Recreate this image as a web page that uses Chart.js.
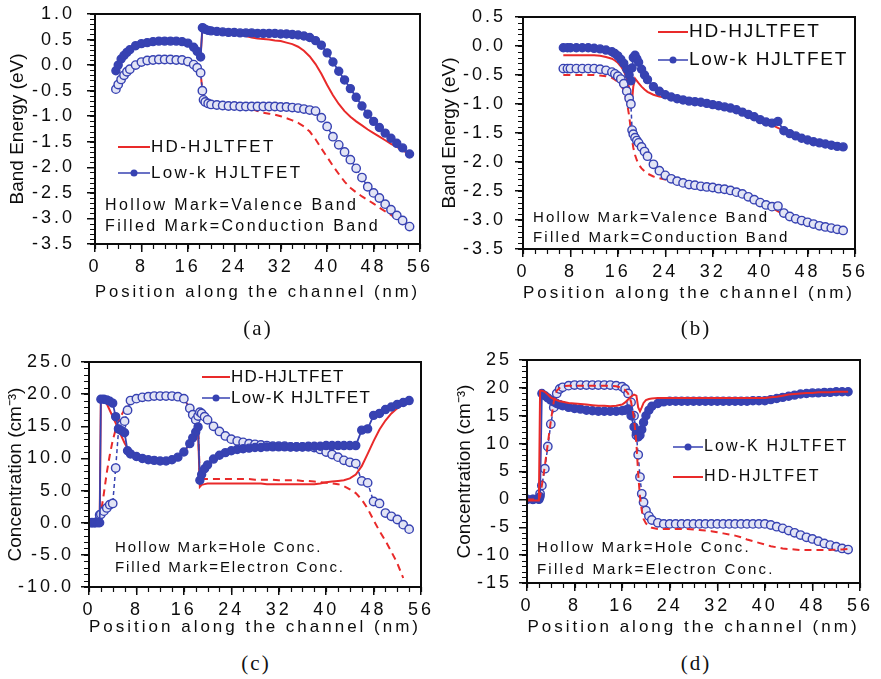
<!DOCTYPE html>
<html>
<head>
<meta charset="utf-8">
<title>Band energy and carrier concentration along the channel</title>
<script src="https://cdn.jsdelivr.net/npm/chart.js@4.4.1/dist/chart.umd.min.js"></script>
<style>
  body { margin: 0; background: #fff; }
  #page { position: relative; width: 881px; height: 679px; overflow: hidden; background: #fff; }
  .panel { position: absolute; }
  .panel canvas { display: block; }
  .caption {
    position: absolute; width: 60px; margin-left: -30px; text-align: center;
    font-family: "Liberation Serif", "Times New Roman", serif; font-size: 21px;
    line-height: 24px; letter-spacing: 2px; color: #111;
  }
</style>
</head>
<body>
<div id="page">
  <div class="panel" style="left:0;top:0"><canvas id="chartA" width="440" height="303"></canvas></div>
  <div class="panel" style="left:440px;top:0"><canvas id="chartB" width="441" height="304"></canvas></div>
  <div class="panel" style="left:0;top:335px"><canvas id="chartC" width="440" height="303"></canvas></div>
  <div class="panel" style="left:440px;top:335px"><canvas id="chartD" width="441" height="303"></canvas></div>
  <div class="caption" style="left:258px;top:316px">(a)</div>
  <div class="caption" style="left:696px;top:316px">(b)</div>
  <div class="caption" style="left:256px;top:651px">(c)</div>
  <div class="caption" style="left:696px;top:651px">(d)</div>
</div>
<script>
// ---- tick labels ----
const xTicks = [0, 8, 16, 24, 32, 40, 48, 56];
const energyTicksA = [1.0, 0.5, 0.0, -0.5, -1.0, -1.5, -2.0, -2.5, -3.0, -3.5];
const energyTicksB = [0.5, 0.0, -0.5, -1.0, -1.5, -2.0, -2.5, -3.0, -3.5];
const concTicksC = [25, 20, 15, 10, 5, 0, -5, -10];
const concTicksD = [25, 20, 15, 10, 5, 0, -5, -10, -15];

// ---- (a) band energy, positions in nm ----
const aPos = [
  3.6, 4, 4.5, 5, 5.5, 6,
  7, 8, 9, 10, 11, 12, 13, 14, 15, 16, 17,
  17.6, 18.2, 18.5, 18.7, 19, 19.5, 20,
  21, 22, 23, 24, 25, 26, 27, 28, 29, 30, 31, 32, 33, 34, 35, 36, 37,
  38, 39, 40, 41, 42, 43, 44, 45, 46, 47, 48, 49, 50, 51, 52, 53, 54.2
];
const aCondLowK = [
  -0.11, 0.00, 0.12, 0.19, 0.25, 0.30,
  0.38, 0.42, 0.44, 0.46, 0.47, 0.47, 0.47, 0.47, 0.46, 0.43, 0.35,
  0.27, 0.16, 0.73, 0.72, 0.70, 0.68, 0.67,
  0.66, 0.65, 0.64, 0.64, 0.63, 0.63, 0.63, 0.62, 0.62, 0.62, 0.62, 0.61, 0.61, 0.60, 0.59, 0.57, 0.54,
  0.48, 0.39, 0.24, 0.06, -0.12, -0.29, -0.46, -0.63, -0.80, -0.96, -1.10, -1.22, -1.33, -1.43, -1.53, -1.62, -1.74
];
const aCondHD = [
  -0.11, 0.00, 0.12, 0.19, 0.25, 0.30,
  0.38, 0.42, 0.44, 0.46, 0.47, 0.47, 0.47, 0.47, 0.46, 0.43, 0.35,
  0.27, 0.16, 0.73, 0.72, 0.70, 0.68, 0.67,
  0.66, 0.65, 0.64, 0.63, 0.60, 0.57, 0.54, 0.52, 0.51, 0.50, 0.48, 0.47, 0.44, 0.41, 0.36, 0.28, 0.17,
  0.02, -0.17, -0.39, -0.59, -0.76, -0.90, -1.01, -1.10, -1.18, -1.26, -1.33, -1.40, -1.47, -1.54, -1.60, -1.67, -1.74
];
const aValLowK = [
  -0.47, -0.38, -0.28, -0.20, -0.13, -0.08,
  0.00, 0.06, 0.09, 0.10, 0.11, 0.11, 0.11, 0.10, 0.10, 0.07, 0.01,
  -0.05, -0.15, -0.50, -0.68, -0.72, -0.75, -0.77,
  -0.78, -0.79, -0.80, -0.80, -0.81, -0.81, -0.81, -0.81, -0.81, -0.81, -0.81, -0.82, -0.82, -0.83, -0.84, -0.86, -0.88,
  -0.90, -1.03, -1.20, -1.40, -1.56, -1.70, -1.85, -2.02, -2.20, -2.38, -2.50, -2.60, -2.72, -2.83, -2.94, -3.04, -3.16
];
const aValHD = [
  -0.47, -0.38, -0.28, -0.20, -0.13, -0.08,
  0.00, 0.06, 0.09, 0.10, 0.11, 0.11, 0.11, 0.10, 0.10, 0.07, 0.01,
  -0.05, -0.15, -0.50, -0.68, -0.72, -0.75, -0.77,
  -0.78, -0.79, -0.80, -0.80, -0.81, -0.83, -0.86, -0.90, -0.93, -0.95, -0.97, -1.00, -1.04, -1.08, -1.13, -1.20, -1.30,
  -1.45, -1.63, -1.80, -1.97, -2.13, -2.28, -2.40, -2.49, -2.57, -2.64, -2.71, -2.79, -2.86, -2.93, -3.01, -3.08, -3.16
];

// ---- (b) band energy ----
const bPos = [
  6.8, 7.5, 8, 9, 10, 11, 12, 13, 14, 15,
  15.5, 16, 16.5, 17, 17.5, 17.9, 18.2, 18.4, 18.6, 18.9, 19.2, 19.5, 20, 20.5,
  21, 22, 23, 24, 25, 26, 27, 28, 29, 30, 31, 32, 33, 34, 35, 36, 37,
  38, 39, 40, 41, 42, 43, 44, 45, 46, 47, 48, 49, 50, 51, 52, 53, 54
];
const bCondLowK = [
  -0.03, -0.03, -0.03, -0.03, -0.03, -0.03, -0.04, -0.05, -0.07, -0.10,
  -0.13, -0.17, -0.23, -0.30, -0.40, -0.50, -0.60, -0.38, -0.20, -0.16, -0.22, -0.28, -0.40, -0.50,
  -0.58, -0.70, -0.78, -0.84, -0.88, -0.91, -0.93, -0.95, -0.96, -0.97, -0.99, -1.01, -1.03, -1.05, -1.07, -1.10, -1.14,
  -1.18, -1.22, -1.27, -1.31, -1.33, -1.30, -1.46, -1.51, -1.55, -1.59, -1.62, -1.65, -1.67, -1.69, -1.71, -1.73, -1.74
];
const bCondHD = [
  -0.16, -0.16, -0.16, -0.16, -0.16, -0.16, -0.16, -0.17, -0.19, -0.22,
  -0.25, -0.29, -0.35, -0.43, -0.56, -0.72, -0.86, -0.94, -0.70, -0.56, -0.60, -0.64, -0.70, -0.75,
  -0.79, -0.84, -0.87, -0.89, -0.90, -0.91, -0.93, -0.95, -0.96, -0.97, -0.99, -1.01, -1.03, -1.05, -1.07, -1.10, -1.14,
  -1.18, -1.22, -1.27, -1.31, -1.36, -1.41, -1.46, -1.51, -1.55, -1.59, -1.62, -1.65, -1.67, -1.69, -1.71, -1.73, -1.74
];
const bValLowK = [
  -0.39, -0.39, -0.39, -0.39, -0.39, -0.39, -0.39, -0.40, -0.42, -0.45,
  -0.48, -0.52, -0.57, -0.65, -0.78, -0.90, -1.00, -1.45, -1.52, -1.58, -1.63, -1.67, -1.74, -1.82,
  -1.90, -2.04, -2.15, -2.23, -2.29, -2.33, -2.36, -2.39, -2.40, -2.42, -2.43, -2.44, -2.46, -2.47, -2.49, -2.52, -2.55,
  -2.60, -2.65, -2.70, -2.74, -2.77, -2.76, -2.88, -2.94, -2.98, -3.01, -3.04, -3.07, -3.10, -3.12, -3.14, -3.16, -3.18
];
const bValHD = [
  -0.50, -0.50, -0.50, -0.50, -0.50, -0.50, -0.50, -0.51, -0.52, -0.55,
  -0.58, -0.62, -0.68, -0.76, -0.95, -1.20, -1.45, -1.62, -1.75, -1.88, -1.97, -2.04, -2.11, -2.16,
  -2.20, -2.25, -2.28, -2.30, -2.31, -2.33, -2.36, -2.39, -2.40, -2.42, -2.43, -2.44, -2.46, -2.47, -2.49, -2.52, -2.55,
  -2.60, -2.65, -2.70, -2.74, -2.79, -2.85, -2.90, -2.94, -2.98, -3.01, -3.04, -3.07, -3.10, -3.12, -3.14, -3.16, -3.18
];

// ---- (c) carrier concentration ----
const cPos = [
  0, 0.5, 1, 1.5, 1.8, 2, 2.5, 3, 3.5, 4, 4.5, 5, 5.5, 6, 6.5, 7,
  8, 9, 10, 11, 12, 13, 14, 15, 16, 17,
  17.5, 18, 18.4, 18.7, 19, 19.5, 20,
  21, 22, 23, 24, 25, 26, 27, 28, 29, 30, 31, 32, 33, 34, 35, 36, 37,
  38, 39, 40, 41, 42, 43, 44, 45, 46, 47, 48, 49, 50, 51, 52, 53, 54
];
const cElecLowK = [
  0, 0, 0, 0, 0, 19.2, 19.2, 19.1, 18.9, 18.6, 16.5, 14.6, 14.3, 14.0, 11.2, 10.7,
  10.3, 10.0, 9.8, 9.7, 9.6, 9.6, 9.8, 10.2, 11.0, 12.3,
  13.2, 14.1, 14.9, 6.6, 7.5, 8.4, 9.0,
  9.9, 10.5, 10.9, 11.2, 11.4, 11.5, 11.6, 11.7, 11.7, 11.8, 11.8, 11.8, 11.8, 11.8, 11.8, 11.8, 11.9,
  11.9, 11.9, 12.0, 12.0, 12.0, 12.0, 12.0, 12.0, 14.4, 14.6, 16.7, 17.0, 17.6, 18.0, 18.4, 18.7, 19.0
];
const cElecHD = [
  0, 0, 0, 0, 0, 19.3, 19.2, 18.5, 17.5, 16.5, 15.5, 14.5, 13.4, 12.4, 11.6, 11.0,
  10.3, 10.0, 9.8, 9.7, 9.6, 9.6, 9.8, 10.2, 11.0, 12.3,
  13.0, 13.8, 14.0, 5.6, 5.9, 6.0, 6.1,
  6.1, 6.1, 6.1, 6.1, 6.1, 6.1, 6.1, 6.1, 6.1, 6.0, 6.0, 6.0, 6.0, 6.0, 6.0, 6.0, 6.0,
  6.0, 6.1, 6.3, 6.4, 6.5, 6.6, 6.9, 7.5, 8.8, 10.7, 12.7, 14.5, 15.9, 17.0, 17.8, 18.4, 18.8
];
const cHoleLowK = [
  0, 0, 0, 0.2, 1.2, 1.3, 1.8, 2.3, 2.8, 3.0, 8.5, 14.6, 15.2, 15.8, 17.5, 19.0,
  19.3, 19.5, 19.6, 19.7, 19.7, 19.7, 19.7, 19.6, 19.3, 17.8,
  16.8, 16.0, 16.6, 17.2, 17.0, 16.5, 16.0,
  15.0, 14.2, 13.5, 13.0, 12.7, 12.5, 12.3, 12.2, 12.1, 12.0, 11.9, 11.9, 11.9, 11.8, 11.8, 11.8, 11.8,
  11.7, 11.4, 11.0, 10.6, 10.2, 9.7, 9.4, 9.2, 6.5, 6.2, 3.3, 3.0, 1.5, 1.0, 0.5, -0.3, -1.0
];
const cHoleHD = [
  0, 0, 0, 0, 0.6, 1.5, 4.5, 7.8, 10.5, 12.8, 14.5, 15.8, 16.8, 17.6, 18.4, 19.0,
  19.3, 19.5, 19.6, 19.7, 19.7, 19.7, 19.7, 19.6, 19.3, 17.8,
  16.8, 16.0, 15.2, 6.8, 6.8, 6.8, 6.8,
  6.8, 6.8, 6.8, 6.8, 6.8, 6.8, 6.8, 6.7, 6.7, 6.7, 6.7, 6.6, 6.6, 6.6, 6.6, 6.5, 6.5,
  6.4, 6.3, 6.2, 6.1, 6.0, 5.7, 5.2, 4.6, 3.6, 2.2, 0.4, -1.3, -2.8, -4.5, -6.3, -8.6, null
];

// ---- (d) carrier concentration ----
const dPos = [
  0, 1, 2, 2.2, 2.5, 3, 3.5, 4, 4.5, 5, 5.5, 6,
  7, 8, 9, 10, 11, 12, 13, 14, 15, 16,
  16.5, 17, 17.5, 18, 18.4, 18.7, 19, 19.3, 19.6, 20, 20.5,
  21, 22, 23, 24, 25, 26, 27, 28, 29, 30, 31, 32, 33, 34, 35, 36, 37,
  38, 39, 40, 41, 42, 43, 44, 45, 46, 47, 48, 49, 50, 51, 52, 53, 54
];
const dElecLowK = [
  0, 0, 0, 0.5, 19.0, 18.6, 18.2, 17.8, 17.5, 17.2, 17.0, 16.8,
  16.5, 16.3, 16.2, 16.0, 15.9, 15.8, 15.8, 15.8, 15.8, 15.9,
  16.0, 16.2, 15.0, 13.0, 12.0, 11.2, 11.5, 12.5, 13.8, 15.0, 16.0,
  16.7, 17.2, 17.5, 17.6, 17.6, 17.6, 17.6, 17.6, 17.6, 17.6, 17.6, 17.6, 17.6, 17.6, 17.6, 17.6, 17.6,
  17.7, 17.7, 17.7, 17.9, 18.1, 18.3, 18.5, 18.7, 18.9, 19.0, 19.1, 19.1, 19.2, 19.2, 19.3, 19.3, 19.3
];
const dElecHD = [
  -0.2, -0.2, -0.2, 19.5, 19.5, 19.3, 18.8, 18.3, 18.0, 17.8, 17.6, 17.5,
  17.3, 17.2, 17.1, 17.0, 16.9, 16.8, 16.8, 16.7, 16.8, 17.0,
  17.4, 17.9, 18.4, 18.8, 18.6, 16.5, 15.8, 16.5, 17.3, 17.8, 18.0,
  18.1, 18.2, 18.2, 18.2, 18.2, 18.2, 18.2, 18.2, 18.2, 18.2, 18.2, 18.2, 18.2, 18.2, 18.2, 18.2, 18.2,
  18.2, 18.2, 18.2, 18.3, 18.4, 18.6, 18.8, 18.9, 19.0, 19.1, 19.1, 19.2, 19.2, 19.2, 19.3, 19.3, 19.3
];
const dHoleLowK = [
  0, 0, 0.2, 1.0, 2.5, 5.5, 9.5, 13.5, 16.5, 19.0, 19.8, 20.1,
  20.4, 20.5, 20.5, 20.5, 20.5, 20.5, 20.5, 20.5, 20.4, 20.2,
  19.8, 19.0, 17.4, 15.0, 11.5, 8.0, 4.0, 1.0, -0.5, -2.0, -3.0,
  -3.7, -4.2, -4.4, -4.4, -4.4, -4.4, -4.4, -4.4, -4.4, -4.4, -4.4, -4.4, -4.4, -4.4, -4.4, -4.4, -4.4,
  -4.4, -4.4, -4.4, -4.6, -4.9, -5.2, -5.6, -6.0, -6.4, -6.8, -7.1, -7.5, -7.9, -8.2, -8.5, -8.8, -9.0
];
const dHoleHD = [
  0, 0, 0, 0.5, 2.5, 6.0, 10.0, 14.0, 17.5, 19.5, 20.0, 20.3,
  20.4, 20.4, 20.4, 20.4, 20.4, 20.4, 20.4, 20.4, 20.3, 20.0,
  19.6, 19.0, 17.5, 14.5, 10.0, 4.5, 0.5, -2.0, -3.5, -4.3, -4.8,
  -5.1, -5.3, -5.3, -5.3, -5.3, -5.3, -5.3, -5.4, -5.5, -5.6, -5.7, -5.9, -6.1, -6.3, -6.5, -6.8, -7.2,
  -7.5, -7.8, -8.1, -8.4, -8.6, -8.8, -8.9, -9.0, -9.1, -9.1, -9.1, -9.1, -9.1, -9.1, -9.0, -9.0, -8.9
];

const INK = '#0c0c0c';
const BLUE = '#3742b2';
const RED = '#e92a2a';
const SANS = '"Liberation Sans", Arial, Helvetica, sans-serif';

function toPoints(pos, vals) {
  const out = [];
  pos.forEach((x, i) => { if (vals[i] !== null) out.push({ x: x, y: vals[i] }); });
  return out;
}

// filled marks = conduction band / electrons, hollow marks = valence band / holes
function lowKSet(pos, vals, hollow) {
  return {
    data: toPoints(pos, vals),
    showLine: true,
    borderColor: BLUE,
    borderWidth: hollow ? 1.5 : 1.8,
    borderDash: hollow ? [4, 3] : [],
    pointRadius: hollow ? 4.2 : 4,
    pointBorderWidth: 1.4,
    pointBorderColor: BLUE,
    pointBackgroundColor: hollow ? '#e2e4f5' : BLUE,
    tension: 0
  };
}

function hdSet(pos, vals, dashed) {
  return {
    data: toPoints(pos, vals),
    showLine: true,
    borderColor: RED,
    borderWidth: 2,
    borderDash: dashed ? [7, 5] : [],
    pointRadius: 0,
    tension: 0
  };
}

// frame, minor ticks, legend and notes drawn inside each plot
const panelDecor = {
  id: 'panelDecor',
  beforeDraw(chart) { chart.ctx.letterSpacing = '0px'; },
  afterDatasetsDraw(chart) { chart.ctx.letterSpacing = '3px'; },
  afterDraw(chart, args, opts) {
    const ctx = chart.ctx;
    const a = chart.chartArea;
    const xs = chart.scales.x, ys = chart.scales.y;
    ctx.save();
    ctx.letterSpacing = '0px';
    ctx.strokeStyle = INK;
    ctx.lineWidth = 1.2;
    ctx.beginPath();
    for (let v = xs.min; v <= xs.max + 1e-9; v += opts.xMinor) {
      const px = Math.round(xs.getPixelForValue(v)) + 0.5;
      ctx.moveTo(px, a.bottom); ctx.lineTo(px, a.bottom + 5);
    }
    for (let v = ys.min; v <= ys.max + 1e-9; v += opts.yMinor) {
      const py = Math.round(ys.getPixelForValue(v)) + 0.5;
      ctx.moveTo(a.left, py); ctx.lineTo(a.left - 5, py);
    }
    ctx.stroke();
    ctx.lineWidth = 2;
    ctx.strokeRect(a.left, a.top, a.right - a.left, a.bottom - a.top);

    const lg = opts.legend;
    ctx.textBaseline = 'middle';
    ctx.textAlign = 'left';
    ctx.fillStyle = INK;
    ctx.font = lg.font + 'px ' + SANS;
    ctx.letterSpacing = lg.spacing + 'px';
    lg.rows.forEach(r => {
      const x0 = a.left + lg.x, x1 = x0 + lg.len, y = a.top + r.dy;
      ctx.beginPath();
      ctx.moveTo(x0, y); ctx.lineTo(x1, y);
      ctx.strokeStyle = r.kind === 'hd' ? RED : BLUE;
      ctx.lineWidth = r.kind === 'hd' ? 2 : 1.5;
      ctx.stroke();
      if (r.kind !== 'hd') {
        ctx.beginPath();
        ctx.arc((x0 + x1) / 2, y, 3.5, 0, Math.PI * 2);
        ctx.fillStyle = BLUE;
        ctx.fill();
        ctx.fillStyle = INK;
      }
      ctx.fillText(r.label, x1 + 1, y);
    });

    const nt = opts.notes;
    ctx.font = nt.font + 'px ' + SANS;
    ctx.letterSpacing = nt.spacing + 'px';
    nt.rows.forEach(r => ctx.fillText(r.label, a.left + nt.x, a.top + r.dy));
    ctx.restore();
  }
};

const panelSpecs = [
  {
    id: 'chartA', area: { left: 95, top: 14, right: 20 }, xAxisHeight: 59,
    yTicks: energyTicksA, yMinor: 0.1, decimals: 1, yTickPad: 12,
    yTitle: 'Band Energy (eV)', yTitlePad: 8.5,
    datasets: [
      lowKSet(aPos, aCondLowK, false), lowKSet(aPos, aValLowK, true),
      hdSet(aPos, aCondHD, false), hdSet(aPos, aValHD, true)
    ],
    legend: { x: 23, len: 32, font: 17, spacing: 2.3, rows: [
      { label: 'HD-HJLTFET', kind: 'hd', dy: 133 },
      { label: 'Low-k HJLTFET', kind: 'lowk', dy: 159 }
    ] },
    notes: { x: 10, font: 16, spacing: 2.4, rows: [
      { label: 'Hollow Mark=Valence Band', dy: 192 },
      { label: 'Filled Mark=Conduction Band', dy: 213 }
    ] }
  },
  {
    id: 'chartB', area: { left: 83, top: 17, right: 26 }, xAxisHeight: 55,
    yTicks: energyTicksB, yMinor: 0.1, decimals: 1, yTickPad: 9,
    yTitle: 'Band Energy (eV)', yTitlePad: 0,
    datasets: [
      lowKSet(bPos, bCondLowK, false), lowKSet(bPos, bValLowK, true),
      hdSet(bPos, bCondHD, false), hdSet(bPos, bValHD, true)
    ],
    legend: { x: 135, len: 30, font: 19, spacing: 1.8, rows: [
      { label: 'HD-HJLTFET', kind: 'hd', dy: 15 },
      { label: 'Low-k HJLTFET', kind: 'lowk', dy: 43 }
    ] },
    notes: { x: 10, font: 15, spacing: 2.2, rows: [
      { label: 'Hollow Mark=Valence Band', dy: 201 },
      { label: 'Filled Mark=Conduction Band', dy: 221 }
    ] }
  },
  {
    id: 'chartC', area: { left: 89, top: 27, right: 19 }, xAxisHeight: 51,
    yTicks: concTicksC, yMinor: 1, decimals: 1, yTickPad: 7,
    yTitle: 'Concentration (cm\u207B\u00B3)', yTitlePad: 6.5,
    datasets: [
      lowKSet(cPos, cElecLowK, false), lowKSet(cPos, cHoleLowK, true),
      hdSet(cPos, cElecHD, false), hdSet(cPos, cHoleHD, true)
    ],
    legend: { x: 113, len: 28, font: 17, spacing: 1.2, rows: [
      { label: 'HD-HJLTFET', kind: 'hd', dy: 15 },
      { label: 'Low-K HJLTFET', kind: 'lowk', dy: 36 }
    ] },
    notes: { x: 26, font: 15, spacing: 1.9, rows: [
      { label: 'Hollow Mark=Hole Conc.', dy: 186 },
      { label: 'Filled Mark=Electron Conc.', dy: 206 }
    ] }
  },
  {
    id: 'chartD', area: { left: 87, top: 25, right: 21 }, xAxisHeight: 55,
    yTicks: concTicksD, yMinor: 1, decimals: 0, yTickPad: 7,
    yTitle: 'Concentration (cm\u207B\u00B3)', yTitlePad: 15.5,
    datasets: [
      hdSet(dPos, dElecHD, false), hdSet(dPos, dHoleHD, true),
      lowKSet(dPos, dElecLowK, false), lowKSet(dPos, dHoleLowK, true)
    ],
    legend: { x: 146, len: 30, font: 16, spacing: 2.1, rows: [
      { label: 'Low-K HJLTFET', kind: 'lowk', dy: 87 },
      { label: 'HD-HJLTFET', kind: 'hd', dy: 117 }
    ] },
    notes: { x: 10, font: 15, spacing: 2.2, rows: [
      { label: 'Hollow Mark=Hole Conc.', dy: 188 },
      { label: 'Filled Mark=Electron Conc.', dy: 210 }
    ] }
  }
];

function buildPanel(spec) {
  const tickFont = { family: SANS, size: 18 };
  return new Chart(document.getElementById(spec.id), {
    type: 'scatter',
    data: { datasets: spec.datasets },
    options: {
      responsive: false,
      animation: false,
      events: [],
      layout: { padding: { left: 0, top: spec.area.top, right: spec.area.right, bottom: 0 } },
      plugins: {
        legend: { display: false },
        tooltip: { enabled: false },
        panelDecor: { xMinor: 2, yMinor: spec.yMinor, legend: spec.legend, notes: spec.notes }
      },
      scales: {
        x: {
          type: 'linear', min: 0, max: 56,
          afterBuildTicks: s => { s.ticks = xTicks.map(v => ({ value: v })); },
          afterFit: s => { s.height = spec.xAxisHeight; s.paddingLeft = 0; s.paddingRight = 0; },
          ticks: { autoSkip: false, maxRotation: 0, padding: 4, color: INK, font: tickFont, z: 1 },
          grid: { drawOnChartArea: false, tickLength: 8, color: INK, lineWidth: 1.5, z: 1 },
          border: { display: false },
          title: {
            display: true, text: 'Position along the channel (nm)', color: INK,
            font: { family: SANS, size: 17 }, padding: { top: 0, bottom: 0 }
          }
        },
        y: {
          type: 'linear',
          min: Math.min(...spec.yTicks), max: Math.max(...spec.yTicks),
          afterBuildTicks: s => { s.ticks = spec.yTicks.map(v => ({ value: v })); },
          afterFit: s => { s.width = spec.area.left; s.paddingTop = 0; s.paddingBottom = 0; },
          ticks: {
            autoSkip: false, padding: spec.yTickPad, color: INK, font: tickFont, z: 1,
            callback: v => Number(v).toFixed(spec.decimals)
          },
          grid: { drawOnChartArea: false, tickLength: 8, color: INK, lineWidth: 1.5 },
          border: { display: false },
          title: {
            display: true, text: spec.yTitle, color: INK,
            font: { family: SANS, size: 19, lineHeight: 1 }, padding: { top: spec.yTitlePad, bottom: 0 }
          }
        }
      }
    },
    plugins: [panelDecor]
  });
}

panelSpecs.forEach(buildPanel);
</script>
</body>
</html>
